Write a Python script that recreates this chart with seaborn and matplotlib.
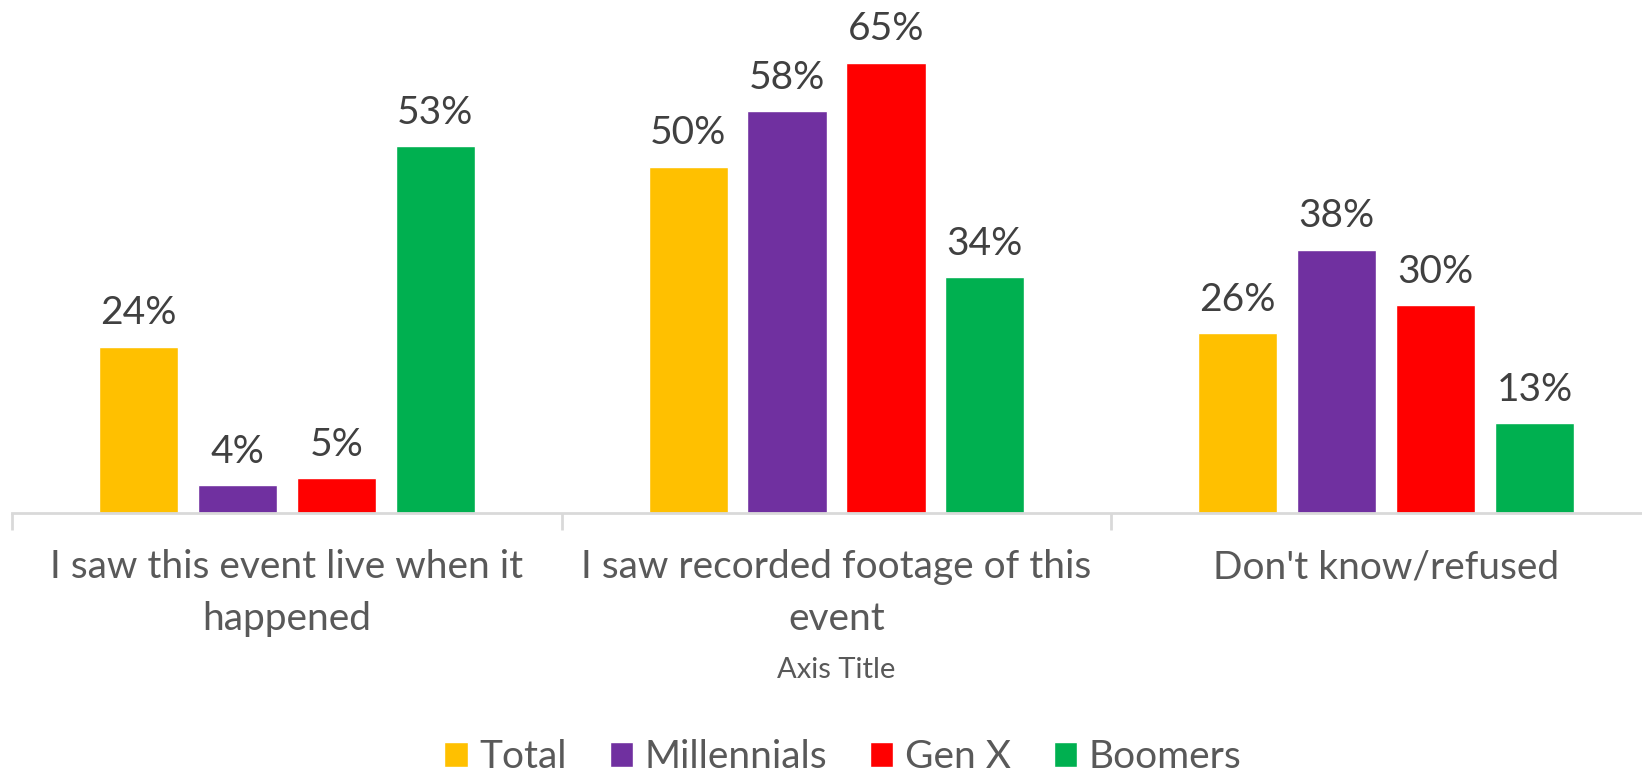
import pandas as pd
import numpy as np
import seaborn as sns
import matplotlib.pyplot as plt
from matplotlib.ticker import FixedLocator

# categories and series
categories = ["I saw this event live when it\nhappened",
              "I saw recorded footage of this\nevent",
              "Don't know/refused"]
groups = ["Total", "Millennials", "Gen X", "Boomers"]
total = [24, 50, 26]
millennials = [4, 58, 38]
gen_x = [5, 65, 30]
boomers = [53, 34, 13]
colors = ["#FFC000", "#7030A0", "#FF0000", "#00B050"]

# long table for seaborn
rows = []
for g, vals in zip(groups, [total, millennials, gen_x, boomers]):
    for c, v in zip(categories, vals):
        rows.append({"category": c, "group": g, "value": v})
df = pd.DataFrame(rows)

sns.set_style("white")
plt.rcParams['font.family'] = ['Lato', 'DejaVu Sans']

fig = plt.figure(figsize=(16.42, 7.76), dpi=100)
ax = fig.add_axes([12/1642, 263/776, 1649/1642, 485/776])

sns.barplot(data=df, x="category", y="value", hue="group", hue_order=groups,
            palette=colors, width=0.72, gap=0.2, saturation=1, ax=ax,
            errorbar=None)

# data labels
for cont in ax.containers:
    ax.bar_label(cont, labels=[f"{int(v)}%" for v in cont.datavalues],
                 padding=11, fontsize=28, color="#404040")

ax.set_xlim(-0.5, 2.5)
ax.set_ylim(0, 70)
ax.set_yticks([])
for s in ["top", "right", "left"]:
    ax.spines[s].set_visible(False)
ax.spines["bottom"].set_color("#D9D9D9")
ax.spines["bottom"].set_linewidth(2)

# ticks between categories
ax.tick_params(axis="x", which="major", length=0, pad=26, labelsize=28,
               labelcolor="#595959")
for t in ax.get_xticklabels():
    t.set_linespacing(1.55)
ax.xaxis.set_minor_locator(FixedLocator([-0.5, 0.5, 1.5, 2.5]))
ax.tick_params(axis="x", which="minor", bottom=True, length=12, width=2,
               color="#D9D9D9")
ax.set_xlabel("Axis Title", fontsize=21, color="#595959", labelpad=14)
ax.set_ylabel("")

sns.move_legend(ax, "center", bbox_to_anchor=(843/1642, 19/776),
                bbox_transform=fig.transFigure, ncol=4, frameon=False,
                title=None, fontsize=28,
                handlelength=0.6, handleheight=0.6, handletextpad=0.3,
                columnspacing=1.1)
for t in ax.get_legend().get_texts():
    t.set_color("#595959")

fig.savefig("out.png", dpi=100)
